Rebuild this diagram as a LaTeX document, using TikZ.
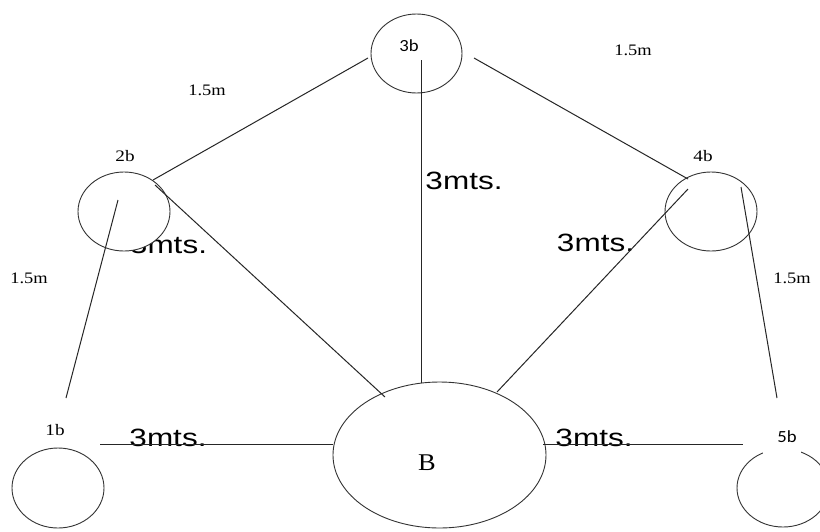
\documentclass[tikz,border=0pt]{standalone}
\usepackage{fontspec}
\setmainfont{Liberation Serif}
\newfontfamily\arialf{Liberation Sans}
\newfontfamily\calf{Carlito}
\usetikzlibrary{shapes.geometric}
\begin{document}
\begin{tikzpicture}[x=1pt,y=-1pt,
 bub/.style={ellipse, draw=black!80, line width=0.9pt, fill=white, inner sep=0pt, outer sep=0pt},
 wire/.style={draw=black!85, line width=1pt},
 dist/.style={font=\arialf\fontsize{25}{25}\selectfont, xscale=1.26, inner sep=0pt},
 meas/.style={font=\fontsize{16}{16}\selectfont, xscale=1.15, inner sep=0pt},
 lbl/.style={font=\fontsize{16}{16}\selectfont, xscale=1.2, inner sep=0pt},
 slbl/.style={font=\calf\fontsize{17}{17}\selectfont, xscale=1.1, inner sep=0pt}]
\path[use as bounding box, clip] (0,0) rectangle (820,531);
\fill[white] (0,0) rectangle (820,531);

% distance texts (drawn first, partly covered)
\node[dist] (t2B) at (168.5,245) {3mts.};
\node[dist] (t3B) at (464,181) {3mts.};
\node[dist] (t4B) at (595.5,243) {3mts.};
\node[dist] (t1B) at (168,438) {3mts.};
\node[dist] (tB5) at (594,438) {3mts.};

% circles
\node[bub, minimum width=91pt, minimum height=79pt] (n3) at (416.5,53.5) {};
\node[bub, minimum width=92pt, minimum height=79pt] (n2) at (124,211.5) {};
\node[bub, minimum width=92pt, minimum height=79pt] (n4) at (711,211.5) {};
\node[bub, minimum width=92pt, minimum height=80pt] (n1) at (58,488) {};
\node[bub, minimum width=92pt, minimum height=78pt] (n5) at (783,488) {};
\node[bub, minimum width=213pt, minimum height=146pt] (nB) at (439.5,455) {};

% connector ends
\coordinate (a23) at (153,180); \coordinate (b23) at (368,58);
\coordinate (a2B) at (155,185); \coordinate (b2B) at (385,397);
\coordinate (a12) at (118,200); \coordinate (b12) at (66,398);
\coordinate (a3B) at (421,60);  \coordinate (b3B) at (421,383);
\coordinate (a34) at (474,58);  \coordinate (b34) at (688,179);
\coordinate (a4B) at (688,189); \coordinate (b4B) at (497,392);
\coordinate (a45) at (741,187); \coordinate (b45) at (777,398);
\coordinate (a1B) at (100,444); \coordinate (b1B) at (333,444);
\coordinate (aB5) at (543,444); \coordinate (bB5) at (743,444);

\draw[wire] (a23) -- (b23);
\draw[wire] (a2B) -- (b2B);
\draw[wire] (a12) -- (b12);
\draw[wire] (a3B) -- (b3B);
\draw[wire] (a34) -- (b34);
\draw[wire] (a4B) -- (b4B);
\draw[wire] (a45) -- (b45);
\draw[wire] (a1B) -- (b1B);
\draw[wire] (aB5) -- (bB5);

% measure labels
\node[meas] (m1) at (207,90) {1.5m};
\node[meas] (m2) at (633,50) {1.5m};
\node[meas] (m3) at (29,278) {1.5m};
\node[meas] (m4) at (792,278) {1.5m};

% circle labels
\node[lbl] (l2) at (125,156) {2b};
\node[lbl] (l4) at (703,156) {4b};
\node[lbl] (l1) at (55,430) {1b};
\node[slbl] (l3) at (409,46) {3b};
\fill[white] (763,436) rectangle (801,456);
\node[slbl] (l5) at (787,437) {5b};
\node[font=\fontsize{24}{24}\selectfont, xscale=1.1, inner sep=0pt] (lB) at (427,463) {B};
\end{tikzpicture}
\end{document}
